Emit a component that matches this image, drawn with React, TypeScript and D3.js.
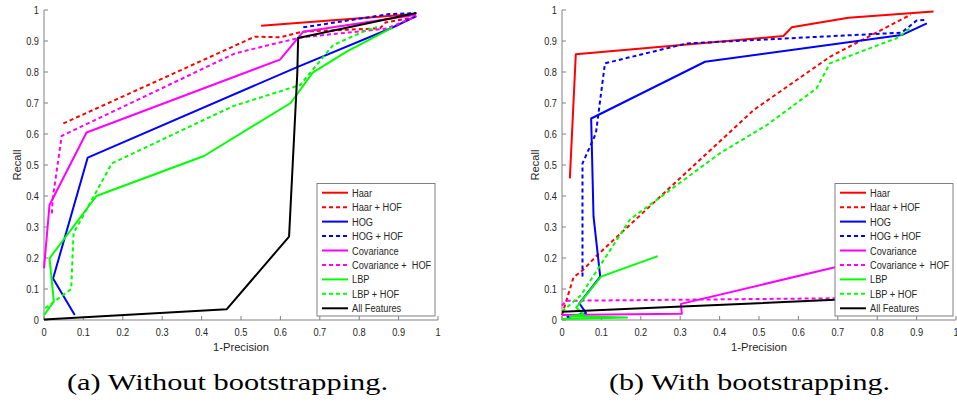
import React from "react";
import * as d3 from "d3";

type P = [number, number];

// ---------- Data: (a) Without bootstrapping ----------
const aHaar: P[] = [[0.551, 0.949], [0.942, 0.987]];
const aHaarHof: P[] = [[0.049, 0.634], [0.535, 0.914], [0.6, 0.912], [0.654, 0.93], [0.853, 0.941], [0.867, 0.96], [0.945, 0.978]];
const aHog: P[] = [[0.078, 0.016], [0.023, 0.134], [0.111, 0.524], [0.641, 0.815], [0.882, 0.942], [0.945, 0.98]];
const aHogHof: P[] = [[0.658, 0.944], [0.878, 0.987], [0.945, 0.99]];
const aCov: P[] = [[0, 0.167], [0.014, 0.371], [0.108, 0.605], [0.599, 0.84], [0.658, 0.93], [0.945, 0.985]];
const aCovHof: P[] = [[0.02, 0.344], [0.022, 0.39], [0.045, 0.594], [0.485, 0.86], [0.574, 0.888], [0.655, 0.912], [0.87, 0.94], [0.945, 0.98]];
const aLbp: P[] = [[0, 0.016], [0.025, 0.06], [0.014, 0.199], [0.133, 0.4], [0.406, 0.529], [0.626, 0.7], [0.682, 0.798], [0.768, 0.866], [0.884, 0.943]];
const aLbpHof: P[] = [[0.003, 0.038], [0.069, 0.1], [0.075, 0.28], [0.172, 0.505], [0.48, 0.69], [0.65, 0.758], [0.734, 0.887], [0.819, 0.935], [0.845, 0.945]];
const aAll: P[] = [[0, 0.002], [0.464, 0.035], [0.622, 0.269], [0.643, 0.8], [0.645, 0.91], [0.945, 0.99]];

// ---------- Data: (b) With bootstrapping ----------
const bHaar: P[] = [[0.02, 0.457], [0.035, 0.857], [0.562, 0.916], [0.583, 0.944], [0.727, 0.975], [0.943, 0.995]];
const bHaarHof: P[] = [[0, 0.016], [0.029, 0.137], [0.053, 0.161], [0.09, 0.21], [0.486, 0.677], [0.68, 0.849], [0.885, 0.985]];
const bHog: P[] = [[0.012, 0.009], [0.061, 0.022], [0.044, 0.054], [0.097, 0.14], [0.08, 0.334], [0.074, 0.65], [0.363, 0.833], [0.862, 0.919], [0.926, 0.957]];
const bHogHof: P[] = [[0.052, 0.14], [0.052, 0.505], [0.086, 0.602], [0.109, 0.828], [0.316, 0.892], [0.862, 0.927], [0.9, 0.966], [0.927, 0.968]];
const bCov: P[] = [[0, 0.016], [0.304, 0.02], [0.302, 0.052], [0.693, 0.17], [0.8, 0.2]];
const bCovHof: P[] = [[0, 0.046], [0.01, 0.062], [0.693, 0.07], [0.8, 0.072]];
const bLbp: P[] = [[0, 0.003], [0.165, 0.008], [0.02, 0.012], [0.055, 0.018], [0.036, 0.04], [0.099, 0.14], [0.243, 0.206]];
const bLbpHof: P[] = [[0, 0.027], [0.048, 0.08], [0.173, 0.325], [0.24, 0.387], [0.401, 0.538], [0.52, 0.629], [0.646, 0.747], [0.68, 0.828], [0.849, 0.909], [0.883, 0.94]];
const bAll: P[] = [[0, 0.027], [0.29, 0.043], [0.693, 0.065], [0.85, 0.07]];

const seriesNames = ["Haar", "Haar + HOF", "HOG", "HOG + HOF", "Covariance", "Covariance +  HOF", "LBP", "LBP + HOF", "All Features"];
const seriesColors = ["#ff0000", "#ff0000", "#0000ff", "#0000ff", "#ff00ff", "#ff00ff", "#00ff00", "#00ff00", "#000000"];
const seriesDashed = [false, true, false, true, false, true, false, true, false];

const dataA = [aHaar, aHaarHof, aHog, aHogHof, aCov, aCovHof, aLbp, aLbpHof, aAll];
const dataB = [bHaar, bHaarHof, bHog, bHogHof, bCov, bCovHof, bLbp, bLbpHof, bAll];

const tickValues = d3.range(0, 11).map((i) => i / 10);
const tickLabels = ["0", "0.1", "0.2", "0.3", "0.4", "0.5", "0.6", "0.7", "0.8", "0.9", "1"];
const captions = ["(a) Without bootstrapping.", "(b) With bootstrapping."];

const FONT = "'Liberation Sans', Arial, Helvetica, sans-serif";
const AXIS = "#808080";
const TXT = "#262626";
const SX = 0.84;

function T({ x, y, anchor, rotate, sx, size, children }: { x: number; y: number; anchor?: string; rotate?: number; sx?: number; size?: number; children: React.ReactNode }) {
  const tr = `translate(${x},${y})${rotate ? ` rotate(${rotate})` : ""} scale(${sx ?? SX},1)`;
  return (
    <text transform={tr} textAnchor={anchor || "start"} fontSize={size ?? 11} fontFamily={FONT} fill={TXT} style={{ whiteSpace: "pre" }}>
      {children}
    </text>
  );
}

function Panel({ left, data, caption, capX, capW }: { left: number; data: P[][]; caption: string; capX: number; capW: number }) {
  const x = d3.scaleLinear().domain([0, 1]).range([left, left + 394]);
  const y = d3.scaleLinear().domain([0, 1]).range([320, 10]);
  const line = d3.line<P>().x((d) => x(d[0])).y((d) => y(d[1]));
  const lx = left + 273;
  const ly = 183.5;
  const lw = 118;
  const lh = 132.5;
  return (
    <g>
      {/* axes */}
      <line x1={x(0)} x2={x(0)} y1={y(0)} y2={y(1)} stroke={AXIS} strokeWidth={1} />
      <line x1={x(0)} x2={x(1)} y1={y(0)} y2={y(0)} stroke={AXIS} strokeWidth={1} />
      {tickValues.map((t, i) => (
        <g key={"t" + i}>
          <line x1={x(0)} x2={x(0) + 4} y1={y(t)} y2={y(t)} stroke={AXIS} />
          <line x1={x(t)} x2={x(t)} y1={y(0)} y2={y(0) - 4} stroke={AXIS} />
          <T x={x(0) - 5} y={y(t) + 4} anchor="end">{tickLabels[i]}</T>
          <T x={x(t)} y={y(0) + 16} anchor="middle">{tickLabels[i]}</T>
        </g>
      ))}
      <T x={x(0) - 23} y={(y(0) + y(1)) / 2} anchor="middle" rotate={-90} sx={1} size={11.2}>Recall</T>
      <T x={(x(0) + x(1)) / 2} y={351} anchor="middle" sx={1} size={11.2}>1-Precision</T>
      {/* series */}
      {data.map((d, i) => (
        <path key={"s" + i} d={line(d) || ""} fill="none" stroke={seriesColors[i]} strokeWidth={2} strokeDasharray={seriesDashed[i] ? "4,3" : undefined} strokeLinejoin="round" />
      ))}
      {/* legend */}
      <rect x={lx} y={ly} width={lw} height={lh} fill="#ffffff" stroke={AXIS} strokeWidth={1} />
      {seriesNames.map((n, i) => {
        const yy = 192.7 + i * 14.45;
        return (
          <g key={"l" + i}>
            <line x1={lx + 5} x2={lx + 31} y1={yy} y2={yy} stroke={seriesColors[i]} strokeWidth={2} strokeDasharray={seriesDashed[i] ? "4,3" : undefined} />
            <T x={lx + 35} y={yy + 4}>{n}</T>
          </g>
        );
      })}
      <text x={capX} y={390} fontSize={24} fontFamily="'Liberation Serif', 'DejaVu Serif', serif" fill="#000" textLength={capW} lengthAdjust="spacingAndGlyphs">{caption}</text>
    </g>
  );
}

export default function App() {
  return (
    <svg width={957} height={409} style={{ position: "absolute", left: 0, top: 0, background: "#fff" }}>
      <rect x={0} y={0} width={957} height={409} fill="#fff" />
      <Panel left={44} data={dataA} caption={captions[0]} capX={67} capW={321} />
      <Panel left={562} data={dataB} caption={captions[1]} capX={609} capW={281} />
    </svg>
  );
}
